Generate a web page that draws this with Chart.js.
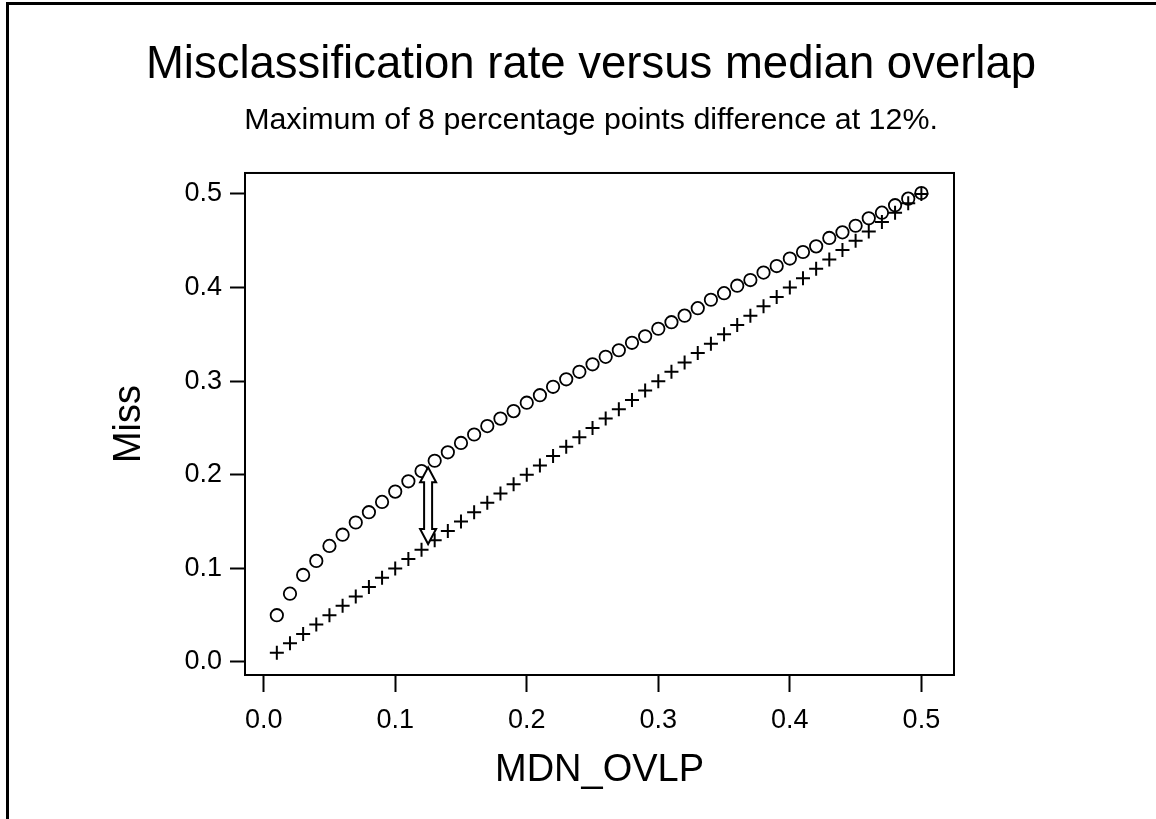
<!DOCTYPE html>
<html>
<head>
<meta charset="utf-8">
<title>Misclassification rate versus median overlap</title>
<script src="https://cdn.jsdelivr.net/npm/chart.js@4.4.1/dist/chart.umd.min.js"></script>
<style>
  html, body { margin: 0; padding: 0; background: #fff; }
  #wrap { width: 1156px; height: 819px; }
</style>
</head>
<body>
<div id="wrap"><canvas id="myChart" width="1156" height="819"></canvas></div>
<script>
// median overlap (x) for every point
const overlap = [
    0.01, 0.02, 0.03, 0.04, 0.05, 0.06, 0.07, 0.08, 0.09, 0.10,
    0.11, 0.12, 0.13, 0.14, 0.15, 0.16, 0.17, 0.18, 0.19, 0.20,
    0.21, 0.22, 0.23, 0.24, 0.25, 0.26, 0.27, 0.28, 0.29, 0.30,
    0.31, 0.32, 0.33, 0.34, 0.35, 0.36, 0.37, 0.38, 0.39, 0.40,
    0.41, 0.42, 0.43, 0.44, 0.45, 0.46, 0.47, 0.48, 0.49, 0.50
];
// circles
const missCircle = [
    0.050, 0.073, 0.093, 0.108, 0.124, 0.136, 0.149, 0.160, 0.171, 0.182,
    0.193, 0.204, 0.215, 0.224, 0.234, 0.243, 0.252, 0.260, 0.268, 0.277,
    0.285, 0.294, 0.302, 0.310, 0.318, 0.326, 0.333, 0.341, 0.348, 0.356,
    0.363, 0.370, 0.378, 0.387, 0.394, 0.402, 0.408, 0.416, 0.423, 0.431,
    0.438, 0.444, 0.453, 0.459, 0.466, 0.474, 0.480, 0.488, 0.495, 0.501
];
// plus signs
const missPlus = [
    0.01, 0.02, 0.03, 0.04, 0.05, 0.06, 0.07, 0.08, 0.09, 0.10,
    0.11, 0.12, 0.13, 0.14, 0.15, 0.16, 0.17, 0.18, 0.19, 0.20,
    0.21, 0.22, 0.23, 0.24, 0.25, 0.26, 0.27, 0.28, 0.29, 0.30,
    0.31, 0.32, 0.33, 0.34, 0.35, 0.36, 0.37, 0.38, 0.39, 0.40,
    0.41, 0.42, 0.43, 0.44, 0.45, 0.46, 0.47, 0.48, 0.49, 0.50
];
const xTicks = [0.0, 0.1, 0.2, 0.3, 0.4, 0.5];
const yTicks = [0.0, 0.1, 0.2, 0.3, 0.4, 0.5];
// double arrow marking the biggest gap
const arrowAt = [0.125];
const arrowSpan = [0.126, 0.208];

const FONT = "'Liberation Sans', Arial, sans-serif";

function toPoints(xs, ys) {
    return xs.map((x, i) => ({ x: x, y: ys[i] }));
}

// white page, outer frame, plot box and the arrow
const framePlugin = {
    id: 'frame',
    beforeDraw(chart) {
        const ctx = chart.ctx;
        ctx.save();
        ctx.fillStyle = '#fff';
        ctx.fillRect(0, 0, chart.width, chart.height);
        ctx.fillStyle = '#000';
        ctx.fillRect(6, 2, chart.width - 6, 3);
        ctx.fillRect(6, 2, 3, chart.height - 2);
        ctx.restore();
    },
    afterDatasetsDraw(chart) {
        const ctx = chart.ctx;
        const area = chart.chartArea;
        const xs = chart.scales.x, ys = chart.scales.y;
        ctx.save();
        ctx.strokeStyle = '#000';
        ctx.lineWidth = 2;
        ctx.strokeRect(area.left, area.top, area.right - area.left, area.bottom - area.top);

        const cx = xs.getPixelForValue(arrowAt[0]);
        const yb = ys.getPixelForValue(arrowSpan[0]);
        const yt = ys.getPixelForValue(arrowSpan[1]);
        const shaft = 4, head = 8, headLen = 15;
        ctx.beginPath();
        ctx.moveTo(cx, yt);
        ctx.lineTo(cx + head, yt + headLen);
        ctx.lineTo(cx + shaft, yt + headLen);
        ctx.lineTo(cx + shaft, yb - headLen);
        ctx.lineTo(cx + head, yb - headLen);
        ctx.lineTo(cx, yb);
        ctx.lineTo(cx - head, yb - headLen);
        ctx.lineTo(cx - shaft, yb - headLen);
        ctx.lineTo(cx - shaft, yt + headLen);
        ctx.lineTo(cx - head, yt + headLen);
        ctx.closePath();
        ctx.fillStyle = '#fff';
        ctx.fill();
        ctx.lineWidth = 2;
        ctx.stroke();
        ctx.restore();
    }
};

const ctx = document.getElementById('myChart').getContext('2d');
const myChart = new Chart(ctx, {
    type: 'scatter',
    data: {
        datasets: [{
            label: 'Miss',
            data: toPoints(overlap, missCircle),
            pointStyle: 'circle',
            radius: 6.2,
            borderWidth: 1.8,
            borderColor: '#000',
            backgroundColor: 'rgba(0,0,0,0)'
        }, {
            label: 'Overlap',
            data: toPoints(overlap, missPlus),
            pointStyle: 'cross',
            radius: 7,
            borderWidth: 2,
            borderColor: '#000',
            backgroundColor: '#000'
        }]
    },
    options: {
        responsive: false,
        animation: false,
        events: [],
        layout: {
            padding: { left: 36, right: 10, top: 0, bottom: 20 }
        },
        plugins: {
            legend: { display: false },
            tooltip: { enabled: false },
            title: {
                display: true,
                text: 'Misclassification rate versus median overlap',
                color: '#000',
                font: { family: FONT, size: 45.5, weight: 'normal' },
                padding: { top: 38, bottom: 6 }
            },
            subtitle: {
                display: true,
                text: 'Maximum of 8 percentage points difference at 12%.',
                color: '#000',
                font: { family: FONT, size: 30.4, weight: 'normal' },
                padding: { top: 4.2, bottom: 33.7 }
            }
        },
        scales: {
            x: {
                type: 'linear',
                min: -0.0142,
                max: 0.5248,
                afterBuildTicks: axis => { axis.ticks = xTicks.map(v => ({ value: v })); },
                afterFit: axis => { axis.height = 124; },
                border: { display: false },
                grid: {
                    drawOnChartArea: false,
                    tickLength: 17,
                    tickColor: '#000',
                    tickWidth: 2
                },
                ticks: {
                    color: '#000',
                    padding: 12,
                    maxRotation: 0,
                    font: { family: FONT, size: 27 },
                    callback: v => v.toFixed(1)
                },
                title: {
                    display: true,
                    text: 'MDN_OVLP',
                    color: '#000',
                    font: { family: FONT, size: 38 },
                    padding: { top: 0, bottom: 6 }
                }
            },
            y: {
                type: 'linear',
                min: -0.0139,
                max: 0.5224,
                afterBuildTicks: axis => { axis.ticks = yTicks.map(v => ({ value: v })); },
                afterFit: axis => { axis.width = 209; },
                border: { display: false },
                grid: {
                    drawOnChartArea: false,
                    tickLength: 15,
                    tickColor: '#000',
                    tickWidth: 2
                },
                ticks: {
                    color: '#000',
                    padding: 8,
                    font: { family: FONT, size: 27 },
                    callback: v => v.toFixed(1)
                },
                title: {
                    display: true,
                    text: 'Miss',
                    color: '#000',
                    font: { family: FONT, size: 38 },
                    padding: { top: 71, bottom: 0 }
                }
            },
            // empty right-hand box so the titles centre like the original
            y2: {
                type: 'linear',
                position: 'right',
                display: true,
                afterFit: axis => { axis.width = 192; },
                border: { display: false },
                grid: { display: false },
                ticks: { display: false }
            }
        }
    },
    plugins: [framePlugin]
});
</script>
</body>
</html>
